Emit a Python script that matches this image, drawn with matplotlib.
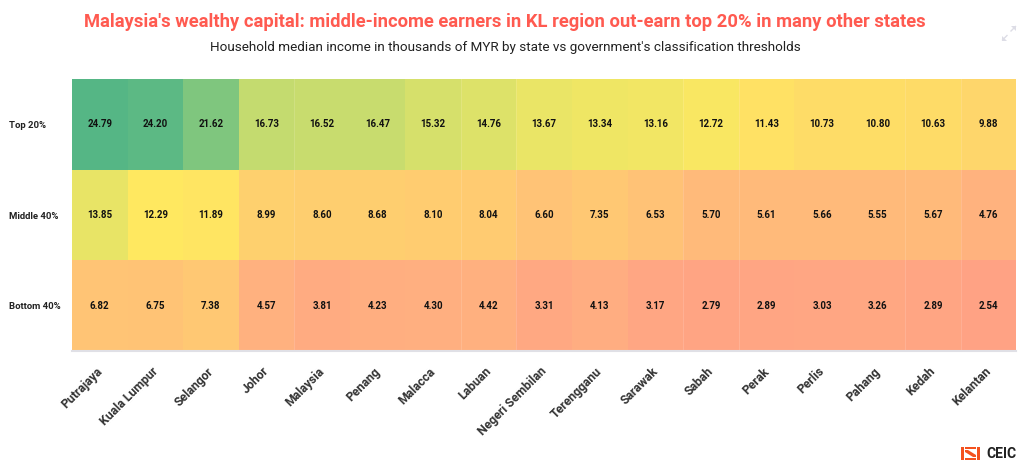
import numpy as np
import matplotlib
matplotlib.use("Agg")
import matplotlib.pyplot as plt
from matplotlib.colors import LinearSegmentedColormap, Normalize
from matplotlib.patches import Polygon
from matplotlib.transforms import ScaledTranslation

plt.rcParams['font.family'] = ['Roboto', 'DejaVu Sans']

states = ["Putrajaya", "Kuala Lumpur", "Selangor", "Johor", "Malaysia", "Penang", "Malacca", "Labuan",
          "Negeri Sembilan", "Terengganu", "Sarawak", "Sabah", "Perak", "Perlis", "Pahang", "Kedah", "Kelantan"]
groups = ["Top 20%", "Middle 40%", "Bottom 40%"]
top20 = [24.79, 24.20, 21.62, 16.73, 16.52, 16.47, 15.32, 14.76, 13.67, 13.34, 13.16, 12.72, 11.43, 10.73, 10.80, 10.63, 9.88]
middle40 = [13.85, 12.29, 11.89, 8.99, 8.60, 8.68, 8.10, 8.04, 6.60, 7.35, 6.53, 5.70, 5.61, 5.66, 5.55, 5.67, 4.76]
bottom40 = [6.82, 6.75, 7.38, 4.57, 3.81, 4.23, 4.30, 4.42, 3.31, 4.13, 3.17, 2.79, 2.89, 3.03, 3.26, 2.89, 2.54]

title = "Malaysia's wealthy capital: middle-income earners in KL region out-earn top 20% in many other states"
subtitle = "Household median income in thousands of MYR by state vs government's classification thresholds"

values = np.array([top20, middle40, bottom40])

stops = [(2.5, "#FFA284"), (4.3, "#FFAF80"), (7.0, "#FFC674"), (9.5, "#FED36C"),
         (12.3, "#FFE860"), (13.7, "#EAE566"), (16.5, "#C8DC6E"), (21.6, "#80C67E"), (24.8, "#55B685")]
vmin, vmax = stops[0][0], stops[-1][0]
cmap = LinearSegmentedColormap.from_list(
    "income", [((v - vmin) / (vmax - vmin), c) for v, c in stops])

W, H = 1024, 469
fig = plt.figure(figsize=(W / 100, H / 100), dpi=100)
ax = fig.add_axes([72 / W, 1 - 351 / H, (1016.5 - 72) / W, (351 - 79) / H])

ax.pcolormesh(np.arange(len(states) + 1), np.arange(len(groups) + 1), values,
              cmap=cmap, norm=Normalize(vmin, vmax), edgecolors="none")
ax.set_xlim(0, len(states))
ax.set_ylim(len(groups), 0)

for r, row in enumerate(values):
    for c, v in enumerate(row):
        ax.text(c + 0.5, r + 0.5, f"{v:.2f}", ha="center", va="center",
                fontsize=7, fontweight="bold", color="#111111")

# faint separators between some columns
for c in [4, 7, 8, 11, 12, 15, 16]:
    ax.axvline(c, color="white", alpha=0.14, lw=0.7)

for s in ["top", "left", "right"]:
    ax.spines[s].set_visible(False)
ax.spines["bottom"].set_color("#E0E0E6")
ax.spines["bottom"].set_linewidth(1.5)

ax.set_yticks(np.arange(len(groups)) + 0.5)
ax.set_yticklabels(groups, fontsize=6.8, fontweight="bold", color="#222222", ha="left")
ax.tick_params(axis="y", length=0, pad=45.4)
ax.set_xticks(np.arange(len(states)) + 0.5)
ax.set_xticklabels(states, fontsize=8.8, fontweight="bold", color="#333333",
                   rotation=45, ha="right", rotation_mode="anchor")
ax.tick_params(axis="x", length=0, pad=10)
shift = ScaledTranslation(-4 / 100, 0, fig.dpi_scale_trans)
for lab in ax.get_xticklabels():
    lab.set_transform(lab.get_transform() + shift)

fig.text(505 / W, 1 - 22 / H, title, ha="center", va="center", fontsize=13.25,
         fontweight="bold", color="#FF5A50")
fig.text(505 / W, 1 - 47.5 / H, subtitle, ha="center", va="center", fontsize=9.7, color="#222222")

# CEIC logo
fig.text(1016.5 / W, 1 - 453.5 / H, "CEIC", ha="right", va="center", fontsize=10,
         fontweight="bold", color="#222222")


def px(points):
    return [(x / W, 1 - y / H) for x, y in points]


orange = "#F4511E"
logo = [
    [(961, 447), (964, 447), (964, 460), (961, 460)],
    [(977, 447), (980, 447), (980, 460), (977, 460)],
    [(965, 447), (976, 447), (976, 449), (965, 449)],
    [(965, 458), (976, 458), (976, 460), (965, 460)],
    [(965, 450), (968, 450), (976, 455), (976, 457), (973, 457), (965, 452)],
]
for poly in logo:
    fig.add_artist(Polygon(px(poly), closed=True, transform=fig.transFigure, fc=orange, ec="none"))

# expand icon
grey = "#DDDDE6"
for a, b in [((1002.5, 40), (1007, 35.5)), ((1011, 31), (1015.5, 26.5))]:
    fig.add_artist(plt.Line2D([a[0] / W, b[0] / W], [1 - a[1] / H, 1 - b[1] / H], color=grey, lw=1))
for poly in [[(1002, 36), (1002, 41), (1007, 41)], [(1011, 26), (1016, 26), (1016, 31)]]:
    fig.add_artist(Polygon(px(poly), closed=True, transform=fig.transFigure, fc=grey, ec="none"))

fig.savefig("out.png", dpi=100)
